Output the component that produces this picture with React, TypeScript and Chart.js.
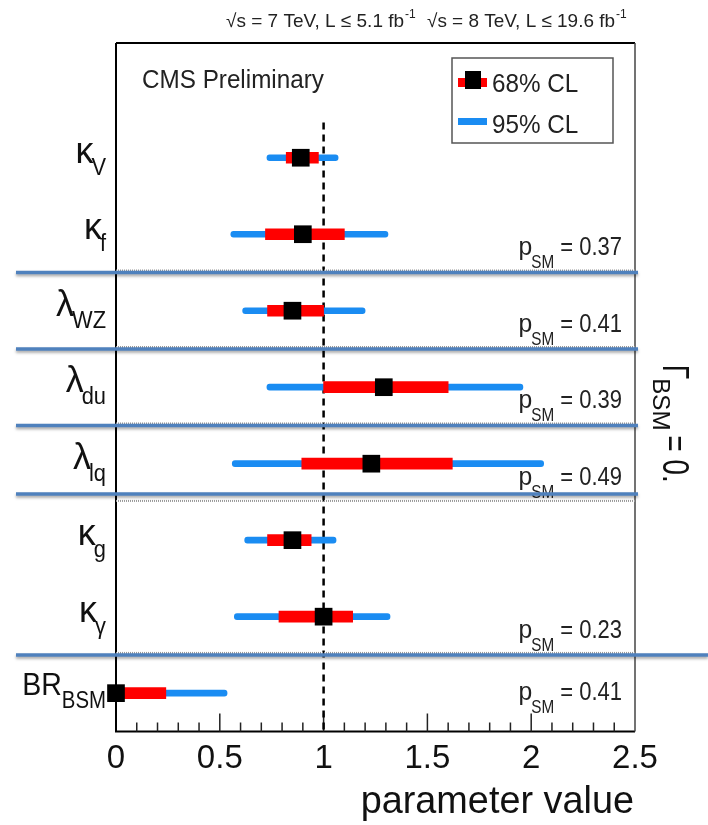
import React, { useEffect, useRef } from "react";
import { Chart, registerables } from "chart.js";

Chart.register(...registerables);

// ---- data ----
const symbols = ["κ", "κ", "λ", "λ", "λ", "κ", "κ", "BR"];
const subscripts = ["V", "f", "WZ", "du", "lq", "g", "γ", "BSM"];
const bestFit = [0.89, 0.9, 0.85, 1.29, 1.23, 0.85, 1.0, 0.0];
const lo68 = [0.82, 0.72, 0.73, 1.0, 0.895, 0.73, 0.785, 0.0];
const hi68 = [0.975, 1.1, 1.0, 1.6, 1.62, 0.94, 1.14, 0.24];
const lo95 = [0.727, 0.553, 0.61, 0.727, 0.56, 0.62, 0.57, 0.0];
const hi95 = [1.07, 1.31, 1.2, 1.96, 2.06, 1.06, 1.32, 0.535];
const pSM: (string | null)[] = [null, "0.37", "0.41", "0.39", "0.49", null, "0.23", "0.41"];
const separatorsAfterRow = [1, 2, 3, 4, 6];
const xMin = 0;
const xMax = 2.5;
const xMajorStep = 0.5;
const xMinorStep = 0.1;
const xTickLabels = ["0", "0.5", "1", "1.5", "2", "2.5"];
const smValue = 1;
const legendLabels = ["68% CL", "95% CL"];
const headerParts = ["√s = 7 TeV, L ≤ 5.1 fb", "√s = 8 TeV, L ≤ 19.6 fb"];

const categories = ["", ...symbols.map((s, i) => s + subscripts[i])];

const BLUE = "#1a8cf2";
const RED = "#ff0000";
const SEP = "#4f81bd";
const FONT = "'Liberation Sans', Arial, sans-serif";

function txt(
  ctx: CanvasRenderingContext2D,
  s: string,
  x: number,
  y: number,
  size: number,
  align: "left" | "right" | "center" = "left",
  sx = 1,
  color = "#111"
) {
  ctx.save();
  ctx.font = `${size}px ${FONT}`;
  ctx.fillStyle = color;
  ctx.textBaseline = "alphabetic";
  ctx.textAlign = "left";
  const w = ctx.measureText(s).width * sx;
  const x0 = align === "right" ? x - w : align === "center" ? x - w / 2 : x;
  ctx.translate(x0, y);
  ctx.scale(sx, 1);
  ctx.fillText(s, 0, 0);
  ctx.restore();
  return w;
}

function measure(ctx: CanvasRenderingContext2D, s: string, size: number, sx = 1) {
  ctx.save();
  ctx.font = `${size}px ${FONT}`;
  const w = ctx.measureText(s).width * sx;
  ctx.restore();
  return w;
}

const decorPlugin = {
  id: "decor",
  beforeDatasetsDraw(chart: any) {
    const { ctx, chartArea: a, scales } = chart;
    const xs = scales.x;
    const ys = scales.y;
    const band = ys.getPixelForValue(2) - ys.getPixelForValue(1);
    // frame
    ctx.save();
    ctx.strokeStyle = "#000";
    ctx.lineWidth = 2;
    ctx.beginPath();
    ctx.moveTo(a.left, a.top);
    ctx.lineTo(a.right, a.top);
    ctx.moveTo(a.left, a.top);
    ctx.lineTo(a.left, a.bottom);
    ctx.lineTo(a.right, a.bottom);
    ctx.stroke();
    ctx.strokeStyle = "#444";
    ctx.lineWidth = 1.5;
    ctx.beginPath();
    ctx.moveTo(a.right, a.top);
    ctx.lineTo(a.right, a.bottom);
    ctx.stroke();
    // ticks
    ctx.strokeStyle = "#222";
    ctx.lineWidth = 1.5;
    ctx.beginPath();
    const nMinor = Math.round((xMax - xMin) / xMinorStep);
    const perMajor = Math.round(xMajorStep / xMinorStep);
    for (let k = 1; k < nMinor; k++) {
      const px = xs.getPixelForValue(xMin + k * xMinorStep);
      const len = k % perMajor === 0 ? 18 : 9;
      ctx.moveTo(px, a.bottom);
      ctx.lineTo(px, a.bottom - len);
    }
    ctx.stroke();
    // SM dashed line
    const px1 = xs.getPixelForValue(smValue);
    ctx.strokeStyle = "#000";
    ctx.lineWidth = 2.5;
    ctx.setLineDash([7, 5]);
    ctx.beginPath();
    ctx.moveTo(px1, ys.getPixelForValue(1) - 0.46 * band);
    ctx.lineTo(px1, a.bottom);
    ctx.stroke();
    ctx.restore();
  },
  afterDraw(chart: any) {
    const { ctx, chartArea: a, scales } = chart;
    const ys = scales.y;
    const W = chart.width;

    // y labels
    symbols.forEach((sym, i) => {
      const yc = ys.getPixelForValue(i + 1);
      const isGreek = sym.length === 1;
      const mainSize = isGreek ? 36 : 31;
      const subSize = isGreek ? 23 : 24;
      const subSx = isGreek ? 0.95 : 0.85;
      const mainBase = yc + (isGreek ? 5 : 2);
      const subBase = yc + (isGreek ? 17 : 15);
      const right = a.left - 10;
      const ws = txt(ctx, subscripts[i], right, subBase, subSize, "right", subSx, "#111");
      txt(ctx, sym, right - ws + (isGreek ? 2 : 0), mainBase, mainSize, "right", isGreek ? 1 : 0.92, "#111");
    });

    // p_SM labels
    pSM.forEach((v, i) => {
      if (v === null) return;
      const yc = ys.getPixelForValue(i + 1);
      const base = yc + (i === pSM.length - 1 ? 7 : 21);
      const right = a.right - 13;
      const wv = txt(ctx, "= " + v, right, base, 25, "right", 0.88, "#222");
      const subRight = right - wv - 6;
      const wsub = txt(ctx, "SM", subRight, base + 13, 18, "right", 0.85, "#222");
      txt(ctx, "p", subRight - wsub + 1, base, 26, "right", 0.95, "#222");
    });

    // legend
    const lx = a.right - 183;
    const ly = a.top + 15;
    ctx.save();
    ctx.fillStyle = "#fff";
    ctx.fillRect(lx, ly, 161, 85);
    ctx.strokeStyle = "#555";
    ctx.lineWidth = 1.5;
    ctx.strokeRect(lx, ly, 161, 85);
    ctx.fillStyle = RED;
    ctx.fillRect(lx + 6, ly + 20, 29, 9);
    ctx.fillStyle = "#000";
    ctx.fillRect(lx + 13, ly + 13, 16, 18);
    ctx.fillStyle = BLUE;
    ctx.fillRect(lx + 6, ly + 60, 29, 7);
    ctx.restore();
    txt(ctx, legendLabels[0], lx + 40, ly + 34, 25, "left", 0.97, "#222");
    txt(ctx, legendLabels[1], lx + 40, ly + 75, 25, "left", 0.97, "#222");

    // CMS Preliminary
    txt(ctx, "CMS Preliminary", a.left + 26, a.top + 45, 25, "left", 0.97, "#222");

    // header
    const w1 = txt(ctx, headerParts[0], 226, 27, 19, "left", 1, "#222");
    txt(ctx, "-1", 226 + w1 + 1, 18, 12, "left", 1, "#222");
    const w2 = measure(ctx, headerParts[1], 19);
    txt(ctx, headerParts[1], 427, 27, 19, "left", 188 / w2, "#222");
    txt(ctx, "-1", 427 + 188 + 1, 18, 12, "left", 1, "#222");

    // x title
    txt(ctx, "parameter value", a.right - 1, 813, 39, "right", 0.97, "#111");

    // Gamma_BSM = 0.
    ctx.save();
    ctx.translate(663, 365);
    ctx.rotate(Math.PI / 2);
    const wg = txt(ctx, "Γ", 0, 0, 37, "left", 0.7, "#111");
    const wb = txt(ctx, "BSM", wg - 1, 10, 23, "left", 1.05, "#111");
    txt(ctx, "= 0.", wg + wb + 4, 0, 37, "left", 0.75, "#111");
    ctx.restore();

    // separators
    separatorsAfterRow.forEach((r, k) => {
      const y = ys.getPixelForValue(r + 1.5);
      const isLast = k === separatorsAfterRow.length - 1;
      const blueY = k === 3 ? y - 8 : y;
      const dotY = k === 3 ? y - 1 : y - 2;
      ctx.save();
      ctx.strokeStyle = "#9a9a9a";
      ctx.lineWidth = 2;
      ctx.setLineDash([1, 1]);
      ctx.beginPath();
      ctx.moveTo(a.left, dotY);
      ctx.lineTo(a.right, dotY);
      ctx.stroke();
      ctx.restore();
      ctx.save();
      ctx.strokeStyle = SEP;
      ctx.lineWidth = 3.5;
      ctx.shadowColor = "rgba(0,0,0,0.35)";
      ctx.shadowOffsetY = 2;
      ctx.shadowBlur = 3;
      ctx.beginPath();
      ctx.moveTo(16, blueY);
      ctx.lineTo(isLast ? W : a.right + 3, blueY);
      ctx.stroke();
      ctx.restore();
    });
  },
};

export default function App() {
  const ref = useRef<HTMLCanvasElement>(null);
  useEffect(() => {
    if (!ref.current) return;
    const labels = categories.slice(1);
    const chart = new Chart(ref.current, {
      type: "bar",
      data: {
        labels: categories,
        datasets: [
          {
            type: "scatter",
            label: "best fit",
            data: bestFit.map((b, i) => ({ x: b, y: labels[i] })) as any,
            pointStyle: "rect",
            pointRadius: 12.5,
            pointHoverRadius: 12.5,
            backgroundColor: "#000",
            borderWidth: 0,
            clip: false as any,
            order: 1,
          } as any,
          {
            type: "bar",
            label: "68% CL",
            data: lo68.map((l, i) => ({ y: labels[i], x: [l, hi68[i]] })) as any,
            backgroundColor: RED,
            barThickness: 11,
            grouped: false,
            borderSkipped: false,
            order: 2,
          } as any,
          {
            type: "bar",
            label: "95% CL",
            data: lo95.map((l, i) => ({ y: labels[i], x: [l, hi95[i]] })) as any,
            backgroundColor: BLUE,
            barThickness: 6,
            grouped: false,
            borderSkipped: false,
            borderRadius: 3,
            order: 3,
          } as any,
        ],
      },
      options: {
        indexAxis: "y",
        responsive: false,
        animation: false,
        events: [],
        layout: { padding: { left: 116, right: 73, top: 43, bottom: 38 } },
        plugins: { legend: { display: false }, tooltip: { enabled: false } },
        scales: {
          x: {
            type: "linear",
            min: xMin,
            max: xMax,
            grid: { display: false, drawTicks: false },
            border: { display: false },
            ticks: {
              stepSize: xMajorStep,
              padding: 8,
              color: "#111",
              font: { family: FONT, size: 33 },
              callback: (_v: any, idx: number) => xTickLabels[idx],
            },
          },
          y: {
            type: "category",
            display: false,
            offset: true,
          },
        },
      } as any,
      plugins: [decorPlugin],
    });
    return () => chart.destroy();
  }, []);
  return (
    <div style={{ position: "absolute", left: 0, top: 0, width: 708, height: 825, background: "#fff" }}>
      <canvas ref={ref} width={708} height={825} style={{ display: "block" }} />
    </div>
  );
}
